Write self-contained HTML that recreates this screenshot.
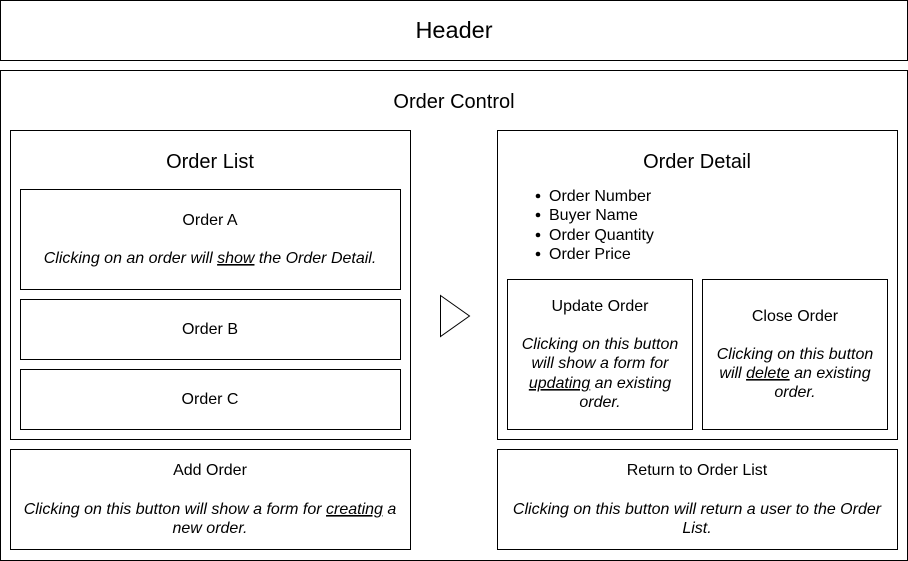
<!DOCTYPE html>
<html><head><meta charset="utf-8"><style>
html,body{margin:0;padding:0;background:#fff;}
svg{display:block;font-family:"Liberation Sans",Arial,sans-serif;}
</style></head><body>
<svg width="908" height="561" viewBox="0 0 908 561" xmlns="http://www.w3.org/2000/svg">
<g fill="#fff" stroke="#000" stroke-width="1">
<rect x="0.5" y="0.5" width="907" height="60"/>
<rect x="0.5" y="70.5" width="907" height="490"/>
<rect x="10.5" y="130.5" width="400" height="309"/>
<rect x="20.5" y="189.5" width="380" height="100"/>
<rect x="20.5" y="299.5" width="380" height="60"/>
<rect x="20.5" y="369.5" width="380" height="60"/>
<rect x="10.5" y="449.5" width="400" height="100"/>
<rect x="497.5" y="130.5" width="400" height="309"/>
<rect x="507.5" y="279.5" width="185" height="150"/>
<rect x="702.5" y="279.5" width="185" height="150"/>
<rect x="497.5" y="449.5" width="400" height="100"/>
<polygon points="440.5,295.5 469.5,316 440.5,336.5"/>
</g>
<g fill="#000" text-anchor="middle">
<text x="454" y="38" font-size="23.5">Header</text>
<text x="454" y="108" font-size="20">Order Control</text>
<text x="210" y="168" font-size="20">Order List</text>
<text x="697" y="168" font-size="20">Order Detail</text>
<g font-size="16">
<text x="210" y="225">Order A</text>
<text x="210" y="263" font-style="italic">Clicking on an order will <tspan text-decoration="underline">show</tspan> the Order Detail.</text>
<text x="210" y="334">Order B</text>
<text x="210" y="404">Order C</text>
<text x="210" y="475">Add Order</text>
<text x="210" y="514" font-style="italic">Clicking on this button will show a form for <tspan text-decoration="underline">creating</tspan> a</text>
<text x="210" y="533" font-style="italic">new order.</text>
<text x="600" y="311">Update Order</text>
<text x="600" y="349" font-style="italic">Clicking on this button</text>
<text x="600" y="368" font-style="italic">will show a form for</text>
<text x="600" y="388" font-style="italic"><tspan text-decoration="underline">updating</tspan> an existing</text>
<text x="600" y="407" font-style="italic">order.</text>
<text x="795" y="321">Close Order</text>
<text x="795" y="359" font-style="italic">Clicking on this button</text>
<text x="795" y="378" font-style="italic">will <tspan text-decoration="underline">delete</tspan> an existing</text>
<text x="795" y="397" font-style="italic">order.</text>
<text x="697" y="475">Return to Order List</text>
<text x="697" y="514" font-style="italic">Clicking on this button will return a user to the Order</text>
<text x="697" y="533" font-style="italic">List.</text>
</g>
</g>
<g font-size="16" fill="#000">
<circle cx="538" cy="196" r="2.3"/><text x="549" y="201">Order Number</text>
<circle cx="538" cy="215" r="2.3"/><text x="549" y="220">Buyer Name</text>
<circle cx="538" cy="235" r="2.3"/><text x="549" y="240">Order Quantity</text>
<circle cx="538" cy="254" r="2.3"/><text x="549" y="259">Order Price</text>
</g>
</svg>
</body></html>
